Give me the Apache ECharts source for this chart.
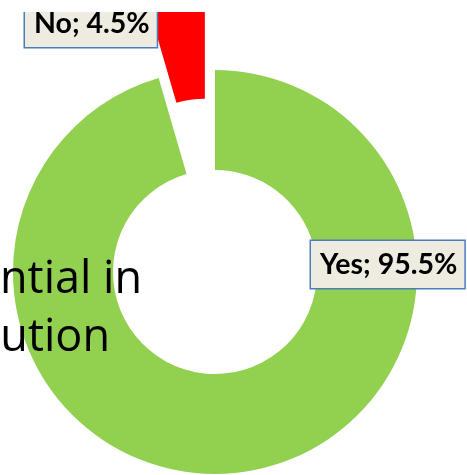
<!DOCTYPE html>
<html>
<head>
<meta charset="utf-8">
<script src="https://cdn.jsdelivr.net/npm/echarts@6/dist/echarts.min.js"></script>
<style>
html,body{margin:0;padding:0;background:#fff;}
#chart{width:467px;height:475px;}
</style>
</head>
<body>
<div id="chart"></div>
<script>
var categories = ['Yes', 'No'];
var values = [95.5, 4.5];
var sliceColors = ['#92d050', '#ff0000'];
var titleLines = ['ntial in', 'lution'];

var chart = echarts.init(document.getElementById('chart'), null, {renderer: 'canvas'});

var labelPos = [
  {x: 311, y: 241},
  {x: 25, y: 0}
];

var labelGraphics = categories.map(function (c, i) {
  return {
    type: 'text', z: 60,
    style: {
      text: c + '; ' + values[i].toFixed(1) + '%',
      x: labelPos[i].x, y: labelPos[i].y,
      align: 'left', verticalAlign: 'top',
      font: 'bold 28.5px Lato',
      fill: '#000',
      backgroundColor: '#eeece1',
      borderColor: '#4a7ebb',
      borderWidth: 1.5,
      padding: [9, 7, 9, 9],
      boxShadowBlur: 8,
      boxShadowOffsetX: 5,
      boxShadowOffsetY: 5,
      boxShadowColor: 'rgba(0,0,0,0.45)'
    }
  };
});

var option = {
  animation: false,
  backgroundColor: '#ffffff',
  series: [{
    type: 'pie',
    center: [215, 272],
    radius: [102, 202],
    startAngle: 90,
    clockwise: true,
    selectedMode: 'single',
    selectedOffset: 72,
    emphasis: {disabled: true},
    label: {show: false},
    labelLine: {show: false},
    data: categories.map(function (c, i) {
      return {
        name: c,
        value: values[i],
        selected: i === 1,
        itemStyle: {color: sliceColors[i]}
      };
    })
  }],
  graphic: labelGraphics.concat([
    {
      type: 'text', z: 50,
      style: {text: titleLines[0], x: 142, y: 258, align: 'right', verticalAlign: 'top',
        font: '45px "Open Sans"', fill: '#000'}
    },
    {
      type: 'text', z: 50,
      style: {text: titleLines[1], x: 110, y: 316, align: 'right', verticalAlign: 'top',
        font: '45px "Open Sans"', fill: '#000'}
    },
    {
      type: 'rect', z: 200,
      shape: {x: 0, y: 0, width: 467, height: 12},
      style: {fill: '#ffffff'}
    }
  ])
};
chart.setOption(option);
</script>
</body>
</html>
